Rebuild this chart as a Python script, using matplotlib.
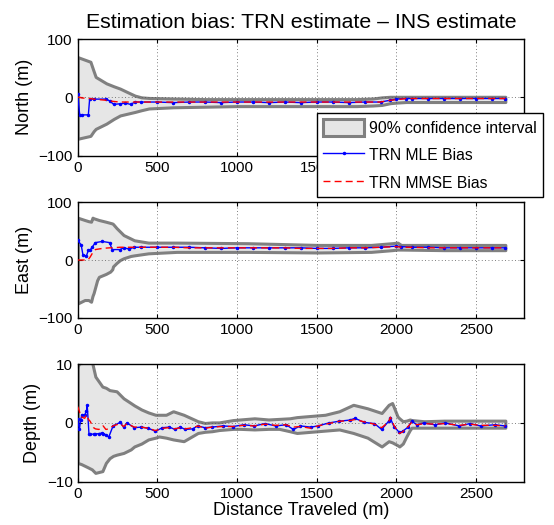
import matplotlib
matplotlib.use("Agg")
import matplotlib.pyplot as plt
import numpy as np

plt.rcParams['font.family'] = ['Liberation Sans', 'DejaVu Sans']

# ---- North ----
north_band_d = [0, 80, 100, 113, 180, 226, 266, 312, 359, 400, 447, 600, 800, 1000, 1200,
                1400, 1600, 1750, 1850, 1908, 1960, 2000, 2060, 2300, 2683]
north_upper = [69, 61, 45, 35, 24, 19, 15, 9, 3, 0, -1, -2, -3, -3, -3,
               -3, -3, -3, -2, 0, 1, 1, 1, 1, 1]
north_lower = [-71, -66, -58, -54, -45, -37, -31, -28, -25, -22, -19, -17, -16, -15, -15,
               -15, -15, -15, -14, -13, -10, -9, -8, -8, -8]
north_d = [0, 13, 27, 67, 75, 100, 180, 200, 226, 266, 300, 332, 360, 400, 500, 600, 700,
           800, 900, 1000, 1100, 1200, 1300, 1400, 1500, 1600, 1700, 1800, 1900, 1960,
           2000, 2060, 2100, 2200, 2300, 2400, 2500, 2600, 2683]
north_mle = [6, -31, -30, -30, -3, -3, -3, -6, -12, -11, -10, -12, -8, -8, -8, -9, -8,
             -8, -9, -8, -8, -9, -8, -9, -8, -8, -9, -8, -8, -5,
             -3, -2, -2, -2, -2, -2, -2, -2, -2]
north_mmse = [0, 0, -1, -2, -2, -3, -5, -6, -7, -8, -8, -8, -8, -8, -8, -8, -8,
              -8, -8, -8, -8, -8, -8, -8, -8, -8, -8, -8, -8, -5,
              -4, -2, -2, -2, -2, -2, -2, -2, -2]

# ---- East ----
east_band_d = [0, 44, 67, 84, 93, 100, 122, 133, 177, 204, 217, 222, 244, 266, 288, 333,
               355, 443, 621, 1064, 1508, 1840, 1973, 2007, 2029, 2300, 2683]
east_upper = [73, 69, 67, 66, 73, 72, 70, 69, 66, 64, 63, 62, 55, 49, 43, 37,
              34, 30, 30, 29, 26, 26, 29, 30, 26, 26, 26]
east_lower = [-75, -69, -69, -72, -62, -57, -35, -29, -24, -20, -16, -11, -5, 0, 3, 7,
              8, 11.5, 14, 14, 13, 14, 17, 18, 18, 17, 17]
east_d = [0, 22, 33, 55, 67, 78, 93, 111, 155, 200, 217, 266, 288, 322, 355, 400, 500,
          600, 700, 800, 900, 1000, 1100, 1200, 1300, 1400, 1500, 1600, 1700, 1800,
          1900, 2000, 2030, 2100, 2200, 2300, 2400, 2500, 2600, 2683]
east_mle = [34, 26, 9, 7, 17, 17, 23, 30, 32, 30, 18, 18, 21, 19, 22, 22, 22,
            22, 22, 21, 20, 21, 21, 21, 21, 21, 20, 20, 21, 21,
            22, 24, 23, 22, 22, 21, 21, 21, 21, 21]
east_mmse = [0, 0, 0, 0, 1, 5, 12, 18, 20, 21, 21, 22, 22, 22, 22, 22, 22,
             22, 21, 21, 21, 21, 21, 21, 21, 20, 20, 20, 21, 21,
             22, 23, 22, 22, 21, 21, 21, 21, 21, 21]

# ---- Depth ----
depth_band_d = [0, 22, 60, 89, 111, 155, 177, 200, 222, 244, 288, 333, 355, 400, 443, 488,
                510, 554, 599, 665, 754, 798, 843, 887, 976, 1020, 1109, 1197, 1264, 1330,
                1375, 1463, 1508, 1552, 1641, 1729, 1818, 1907, 1951, 1973, 2007, 2018,
                2040, 2062, 2084, 2095, 2173, 2300, 2500, 2683]
depth_upper = [9.6, 11.0, 11.5, 10.5, 7.9, 6.2, 6.0, 5.6, 5.5, 5.4, 4.2, 3.4, 3.0, 2.3, 1.8, 1.4,
               1.4, 1.4, 2.0, 1.4, 0.3, 0.0, 0.1, 0.1, 0.5, 0.6, 0.8, 0.6, 0.7, 0.8,
               1.0, 1.2, 1.3, 1.4, 2.0, 3.1, 2.5, 1.7, 3.1, 3.4, 1.1, 0.8,
               0.3, 0.4, 0.6, 0.5, 0.3, 0.4, 0.4, 0.4]
depth_lower = [-6.8, -7.0, -7.5, -7.9, -8.5, -8.2, -6.8, -6.0, -5.6, -5.4, -5.1, -4.5, -4.0, -3.5, -2.8, -2.5,
               -2.3, -2.5, -2.8, -3.1, -1.7, -1.5, -1.4, -1.2, -1.0, -1.0, -1.1, -1.0, -1.0, -1.4,
               -1.7, -1.5, -1.4, -1.3, -1.1, -1.7, -2.5, -4.0, -3.1, -3.3, -3.8, -4.0,
               -3.5, -2.3, -1.2, -0.8, -0.8, -0.8, -0.8, -0.8]
depth_d = [0, 11, 18, 27, 44, 55, 60, 71, 78, 100, 111, 133, 155, 160, 177, 195, 222, 266,
           288, 310, 355, 400, 443, 488, 532, 576, 610, 643, 676, 721, 754, 798, 843, 909,
           976, 1042, 1109, 1175, 1242, 1308, 1353, 1397, 1463, 1508, 1574, 1641, 1707,
           1741, 1796, 1862, 1907, 1951, 1962, 1984, 2018, 2040, 2073, 2095, 2129, 2173,
           2240, 2306, 2395, 2461, 2528, 2617, 2683]
depth_mle = [0.6, -1.1, 0.5, 1.4, 1.4, 2.0, 3.0, -1.9, -1.9, -1.9, -1.9, -1.8, -1.7, -1.8,
             -2.0, -2.4, -0.5, 0.1, -0.7, 0.0, -0.8, -0.7, -0.9, -1.4, -0.8, -0.7, -1.1,
             -0.7, -1.1, -1.0, -0.5, -0.8, -0.7, -0.5, -0.6, -0.3, -0.5, -0.1, -0.5, -0.3,
             -1.1, -0.5, -0.7, -0.5, 0.0, 0.3, 0.5, 0.8, 0.1, -0.1, -1.1, 0.3, 0.8, -0.6,
             -1.6, -1.4, -0.7, 0.3, -0.3, 0.0, -0.3, 0.0, -0.5, -0.1, -0.5, -0.3, -0.5]
depth_mmse = [2.8, 2.0, 1.1, 1.0, 0.8, 1.4, 1.0, 0.5, 0.3, -0.8, -1.0, -1.1, -0.6, -0.5,
              -1.1, -1.0, -0.5, -0.1, -0.6, -0.1, -0.7, -0.7, -0.9, -1.3, -0.9, -0.8, -1.0,
              -0.8, -1.0, -0.8, -0.5, -0.9, -0.7, -0.6, -0.6, -0.4, -0.5, -0.2, -0.4, -0.3,
              -0.7, -0.6, -0.9, -0.5, -0.1, 0.3, 0.4, 0.6, 0.2, -0.2, -0.8, 0.2, 1.0, -0.4,
              -1.8, -1.5, -0.6, 0.1, -0.3, -0.1, -0.2, -0.1, -0.4, -0.2, -0.4, -0.4, -0.5]

panels = [
    ("North (m)", north_band_d, north_upper, north_lower, north_d, north_mle, north_mmse, 100),
    ("East (m)", east_band_d, east_upper, east_lower, east_d, east_mle, east_mmse, 100),
    ("Depth (m)", depth_band_d, depth_upper, depth_lower, depth_d, depth_mle, depth_mmse, 10),
]

fig = plt.figure(figsize=(5.54, 5.25), dpi=100)
rects = [[0.1402, 0.7034, 0.8056, 0.2223],
         [0.1402, 0.3943, 0.8056, 0.2209],
         [0.1402, 0.0825, 0.8056, 0.2236]]

axes = []
for rect, (ylab, bd, up, lo, d, mle, mmse, lim) in zip(rects, panels):
    ax = fig.add_axes(rect)
    ax.fill_between(bd, lo, up, facecolor="#e6e6e6", edgecolor="#808080",
                    linewidth=2.2, label="90% confidence interval", zorder=1)
    ax.plot(d, mle, color="blue", lw=1.0, marker=".", markersize=3,
            label="TRN MLE Bias", zorder=3)
    ax.plot(d, mmse, color="red", lw=1.0, ls=(0, (5, 3)),
            label="TRN MMSE Bias", zorder=4)
    ax.set_xlim(0, 2800)
    ax.set_ylim(-lim, lim)
    ax.set_xticks([0, 500, 1000, 1500, 2000, 2500])
    ax.set_yticks([-lim, 0, lim])
    ax.grid(True, color="#555555", linestyle=(0, (1, 3)), linewidth=0.6)
    ax.tick_params(direction="in", top=True, right=True, labelsize=11, length=3, pad=3.5)
    ax.set_ylabel(ylab, fontsize=13, labelpad=4)
    for s in ax.spines.values():
        s.set_linewidth(1.0)
    axes.append(ax)

axes[0].set_title("Estimation bias: TRN estimate \u2013 INS estimate", fontsize=15.3, pad=8)
axes[2].set_xlabel("Distance Traveled (m)", fontsize=13, labelpad=1)

handles, labels = axes[0].get_legend_handles_labels()
leg = fig.legend(handles, labels, loc="upper left", bbox_to_anchor=(0.572, 0.785),
                 borderaxespad=0, fontsize=11.3, frameon=True, fancybox=False,
                 framealpha=1, edgecolor="black", handlelength=2.6, handleheight=1.3,
                 labelspacing=0.65, borderpad=0.4, handletextpad=0.3)
leg.get_frame().set_linewidth(1.0)
leg.set_zorder(10)

fig.savefig("out.png", dpi=100)
